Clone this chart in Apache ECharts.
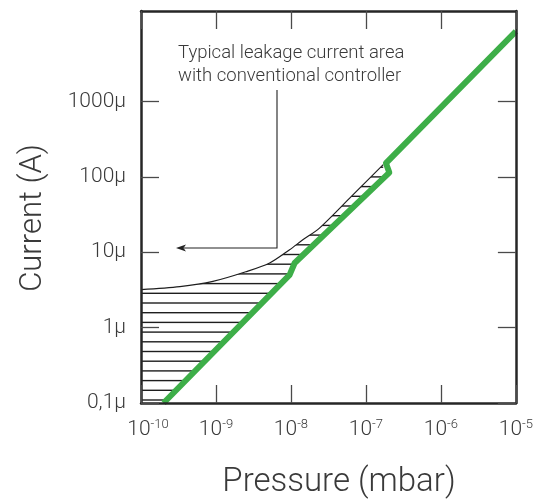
<!DOCTYPE html>
<html><head><meta charset="utf-8">
<script src="https://cdn.jsdelivr.net/npm/echarts@6/dist/echarts.min.js"></script>
<style>html,body{margin:0;padding:0;background:#fff}#c{width:536px;height:501px}</style>
</head><body><div id="c"></div>
<script>
// ---- data ----
const xTickExponents = [-10, -9, -8, -7, -6, -5];
const yTickValues = [1e-7, 1e-6, 1e-5, 1e-4, 1e-3];
const yTickLabels = ['0,1μ', '1μ', '10μ', '100μ', '1000μ'];
const readingPressure = [2e-10, 9.6e-9, 1.12e-8, 2.05e-7, 1.85e-7, 1e-5];
const readingCurrent  = [1e-7, 5.0e-6, 7.2e-6, 1.14e-4, 1.52e-4, 8.5e-3];
const leakagePressure = [1e-10, 3.3e-10, 9.1e-10, 2.5e-9, 5.2e-9, 9.6e-9, 1.44e-8, 2.4e-8, 6.4e-8, 1.7e-7];
const leakageCurrent  = [3.2e-6, 3.5e-6, 4.1e-6, 5.5e-6, 7.2e-6, 1.08e-5, 1.46e-5, 2.09e-5, 5.5e-5, 1.45e-4];
const annotationLines = ['Typical leakage current area', 'with conventional controller'];
const readingLabel = '4UHV Reading';
const xName = 'Pressure (mbar)';
const yName = 'Current (A)';

const FONT = 'Roboto';
const TXT = '#3a3a3a';

function makeHatch() {
  const c = document.createElement('canvas');
  c.width = 8; c.height = 97;
  const g = c.getContext('2d');
  g.fillStyle = '#1e1e1e';
  for (let k = 0; k < 10; k++) g.fillRect(0, 2.3 + 9.7 * k - 0.7, 8, 1.4);
  return c;
}

const zip = (a, b) => a.map((v, i) => [v, b[i]]);

const frame = { show: true, lineStyle: { color: '#262626', width: 2.5 } };
const ticks = { show: true, inside: true, length: 18, lineStyle: { color: '#4a4a4a', width: 1.3 } };
const xMin = Math.pow(10, xTickExponents[0]);
const xMax = Math.pow(10, xTickExponents[xTickExponents.length - 1]);
const yMin = yTickValues[0];
const yMax = Math.pow(10, -1.8);

const yLabelOf = v => {
  const i = yTickValues.findIndex(t => Math.abs(Math.log10(t) - Math.log10(v)) < 1e-6);
  return i >= 0 ? yTickLabels[i] : '';
};
const xLabelOf = v => {
  const e = Math.round(Math.log10(v));
  return (e === xTickExponents[0] ? '{p|}' : '') + '{b|10}{s|' + e + '}';
};

const chart = echarts.init(document.getElementById('c'), null, { renderer: 'canvas' });
chart.setOption({
  animation: false,
  backgroundColor: '#fff',
  grid: { left: 141, right: 19, top: 11, bottom: 98, containLabel: false },
  xAxis: [
    { type: 'log', logBase: 10, min: xMin, max: xMax, position: 'bottom', z: 5,
      axisLine: frame, axisTick: ticks, splitLine: { show: false },
      axisLabel: { margin: 15, color: TXT, fontFamily: FONT, fontWeight: 300,
        formatter: xLabelOf,
        rich: { p: { width: 14 },
                b: { fontSize: 21, lineHeight: 24, fontFamily: FONT, fontWeight: 300, color: TXT },
                s: { fontSize: 13, lineHeight: 20, verticalAlign: 'top', fontFamily: FONT, fontWeight: 300, color: TXT } } } },
    { type: 'log', logBase: 10, min: xMin, max: xMax, position: 'top', z: 5,
      axisLine: frame, axisTick: ticks, splitLine: { show: false }, axisLabel: { show: false } }
  ],
  yAxis: [
    { type: 'log', logBase: 10, min: yMin, max: yMax, position: 'left', z: 5,
      axisLine: frame, axisTick: Object.assign({}, ticks, { customValues: yTickValues }), splitLine: { show: false },
      axisLabel: { customValues: yTickValues, margin: 15, fontSize: 21, color: TXT, fontFamily: FONT, fontWeight: 300,
        formatter: yLabelOf } },
    { type: 'log', logBase: 10, min: yMin, max: yMax, position: 'right', z: 5,
      axisLine: frame, axisTick: Object.assign({}, ticks, { customValues: yTickValues }), splitLine: { show: false },
      axisLabel: { show: false } }
  ],
  series: [
    { name: 'leakage', type: 'line', data: zip(leakagePressure, leakageCurrent), showSymbol: false, symbol: 'none',
      smooth: 0.3, clip: true, z: 2,
      lineStyle: { color: '#1e1e1e', width: 1.2 },
      areaStyle: { origin: 'start', opacity: 1, color: { image: makeHatch(), repeat: 'repeat' } } },
    { name: 'reading', type: 'line', data: zip(readingPressure, readingCurrent), showSymbol: false, symbol: 'none',
      clip: true, z: 3,
      lineStyle: { color: '#3dae48', width: 6, join: 'round' },
      areaStyle: { origin: 'start', opacity: 1, color: '#ffffff' } }
  ],
  graphic: [
    { type: 'text', x: 33, y: 218, rotation: Math.PI / 2, style: { text: yName, fontSize: 31, fontFamily: FONT, fontWeight: 300, fill: TXT, align: 'center', verticalAlign: 'middle' } },
    { type: 'text', x: 339, y: 483, style: { text: xName, fontSize: 33, fontFamily: FONT, fontWeight: 300, fill: TXT, align: 'center', verticalAlign: 'middle' } },
    { type: 'text', x: 178, y: 53.5, style: { text: annotationLines[0], fontSize: 18.5, fontFamily: FONT, fontWeight: 300, fill: TXT, align: 'left', verticalAlign: 'middle' } },
    { type: 'text', x: 178, y: 76, style: { text: annotationLines[1], fontSize: 18.5, fontFamily: FONT, fontWeight: 300, fill: TXT, align: 'left', verticalAlign: 'middle' } },
    { type: 'text', x: 352, y: 259, style: { text: readingLabel, fontSize: 21, fontFamily: FONT, fontWeight: 300, fill: TXT, align: 'left', verticalAlign: 'middle' } },
    { type: 'polyline', shape: { points: [[277, 90], [277, 248], [184, 248]] }, style: { stroke: '#222', lineWidth: 1.1, fill: null } },
    { type: 'polygon', shape: { points: [[176, 248], [186, 244.5], [183.5, 248], [186, 251.5]] }, style: { fill: '#222' } },
    { type: 'line', shape: { x1: 340, y1: 260, x2: 322, y2: 260 }, style: { stroke: '#222', lineWidth: 1.1 } },
    { type: 'polygon', shape: { points: [[315, 260], [325, 256.5], [322.5, 260], [325, 263.5]] }, style: { fill: '#222' } }
  ]
});
</script>
</body></html>
